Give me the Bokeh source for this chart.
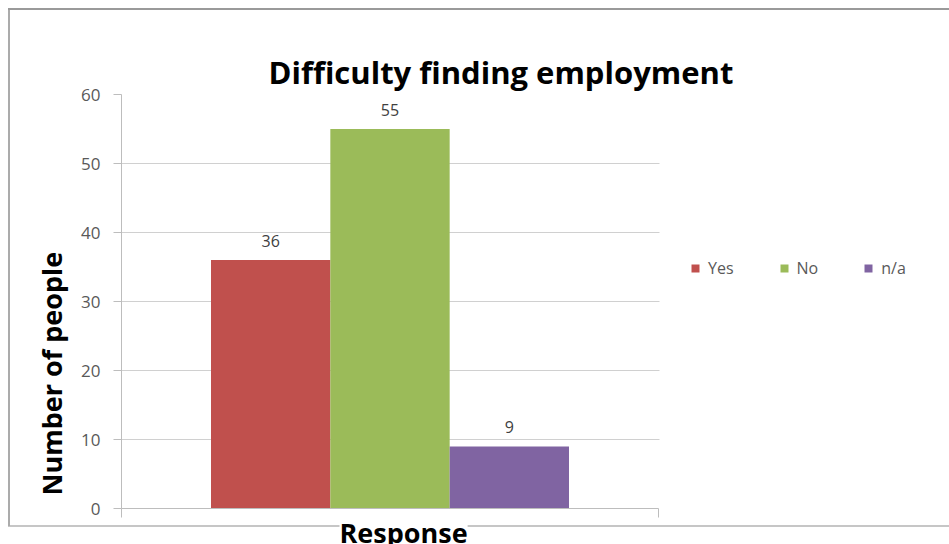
from bokeh.plotting import figure
from bokeh.models import (ColumnDataSource, Range1d, Legend, LegendItem, Title,
                          BoxAnnotation, FixedTicker)
from bokeh.core.properties import value
from bokeh.embed import file_html
from bokeh.resources import INLINE

# ---- data ----
categories = ["Yes", "No", "n/a"]
counts = [36, 55, 9]
colors = ["#C0504D", "#9BBB59", "#8064A2"]
y_ticks = [0, 10, 20, 30, 40, 50, 60]
title_text = "Difficulty finding employment"
x_label = "Response"
y_label = "Number of people"

FONT = "Open Sans"
W, H = 949, 544
LEFT, PLOT_RIGHT, TOP, BOTTOM = 121, 658, 94, 508   # plot-area pixel box

positions = list(range(len(categories)))
pad = 0.75
x_start = -0.5 - pad
x_end = len(categories) - 0.5 + pad
# the frame runs to the right edge (legend lives there); the bar area ends at x_end
frame_end = x_start + (x_end - x_start) * (W - LEFT) / (PLOT_RIGHT - LEFT)

src = ColumnDataSource(dict(x=positions, top=counts, color=colors,
                            label=[str(c) for c in counts]))

# outer chart border (top, left, bottom) painted as the host background,
# visible through the transparent canvas border area; the right edge stays open
border_css = """
:host {
  background-color: white;
  background-image: linear-gradient(#9a9a9a, #9a9a9a),
                    linear-gradient(#ababab, #ababab),
                    linear-gradient(#c6c6c6, #c6c6c6);
  background-size: 941px 2px, 2px 518px, 941px 2px;
  background-position: 8px 8px, 8px 8px, 8px 525px;
  background-repeat: no-repeat;
}
:host::after {
  content: "";
  position: absolute;
  right: 0; top: 11px;
  width: 4px; height: 513px;
  background: white;
  pointer-events: none;
  z-index: 10;
}
"""

p = figure(width=W, height=H, output_backend="svg", toolbar_location=None,
           x_range=Range1d(x_start, frame_end), y_range=Range1d(0, 60),
           min_border_left=LEFT, min_border_right=0, min_border_top=TOP,
           min_border_bottom=H - BOTTOM, title=title_text, stylesheets=[border_css])
p.outline_line_color = None
p.background_fill_color = "white"
p.border_fill_color = None

# title
p.title.align = "left"
p.title.offset = 147
p.title.standoff = 3
p.title.vertical_align = "bottom"
p.title.text_font = FONT
p.title.text_font_style = "bold"
p.title.text_font_size = "31px"
p.title.text_color = "black"

r = p.vbar(x="x", top="top", width=1, fill_color="color", line_color=None, source=src)

p.text(x="x", y="top", text="label", source=src, y_offset=-19,
       text_align="center", text_baseline="alphabetic",
       text_font=value(FONT), text_font_size="16px", text_color="#404040")

# axes
p.yaxis.ticker = FixedTicker(ticks=y_ticks)
p.yaxis.axis_line_color = "#bdbdbd"
p.yaxis.major_tick_line_color = "#bdbdbd"
p.yaxis.major_tick_out = 8
p.yaxis.major_tick_in = 0
p.yaxis.minor_tick_line_color = None
p.yaxis.major_label_standoff = 13
p.yaxis.major_label_text_font = FONT
p.yaxis.major_label_text_font_size = "17px"
p.yaxis.major_label_text_color = "#595959"

p.xaxis.ticker = FixedTicker(ticks=[x_start, x_end])
p.xaxis.bounds = (x_start, x_end)
p.xaxis.axis_line_color = "#bdbdbd"
p.xaxis.major_tick_line_color = "#bdbdbd"
p.xaxis.major_tick_out = 9
p.xaxis.major_tick_in = 0
p.xaxis.minor_tick_line_color = None
p.xaxis.major_label_text_color = None
p.xaxis.major_label_text_font_size = "1px"
p.xaxis.major_label_standoff = 0

p.xgrid.grid_line_color = None
p.ygrid.ticker = FixedTicker(ticks=y_ticks)
p.ygrid.grid_line_color = "#d0d0d0"

# white cover: gridlines stop at the end of the bar area; top gridline hidden by title box
p.add_layout(BoxAnnotation(left=PLOT_RIGHT + 1, right=W, top=0, bottom=H,
                           left_units="canvas", right_units="canvas",
                           top_units="canvas", bottom_units="canvas",
                           fill_color="white", fill_alpha=1, line_color=None,
                           line_alpha=0, level="underlay"))
p.add_layout(BoxAnnotation(left=190, right=800, top=60, bottom=100,
                           left_units="canvas", right_units="canvas",
                           top_units="canvas", bottom_units="canvas",
                           fill_color="white", fill_alpha=1, line_color=None,
                           line_alpha=0, level="underlay"))

# axis titles
p.add_layout(Title(text=y_label, align="left", offset=13, standoff=18,
                   vertical_align="bottom", text_font=FONT, text_font_style="bold",
                   text_font_size="27px", text_color="black"), "left")
p.add_layout(Title(text=x_label, align="left", offset=218, standoff=-12,
                   vertical_align="bottom", text_font=FONT, text_font_style="bold",
                   text_font_size="27px", text_color="black",
                   background_fill_color="white"), "below")

items = [LegendItem(label=value(c), renderers=[r], index=i) for i, c in enumerate(categories)]
legend = Legend(items=items, orientation="horizontal",
                location=(690 - LEFT, BOTTOM - 279),
                margin=0, padding=0, spacing=45, glyph_width=10, glyph_height=10,
                label_standoff=8, label_text_font=FONT, label_text_font_size="16px",
                label_text_color="#595959", border_line_color=None,
                background_fill_alpha=0)
p.add_layout(legend, "center")

open("out.html", "w").write(file_html(p, INLINE))
